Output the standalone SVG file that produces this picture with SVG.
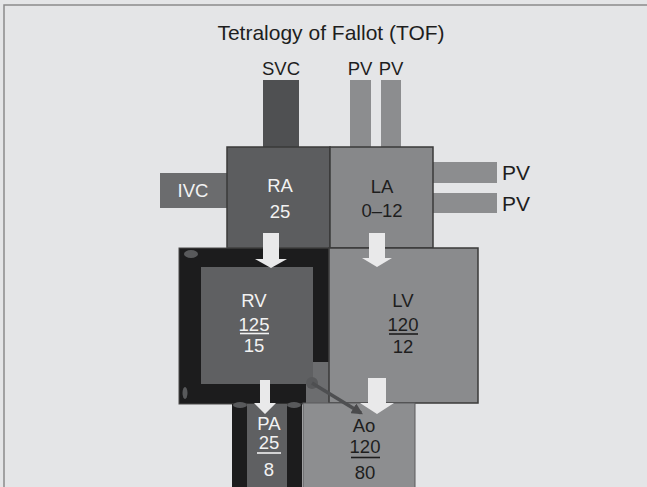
<svg xmlns="http://www.w3.org/2000/svg" width="647" height="487" viewBox="0 0 647 487">
<style>
.t{font-family:"Liberation Sans",Arial,sans-serif;font-size:18.5px;text-anchor:middle}
.w{fill:#f2f2f2}
.d{fill:#1e1e1e}
.ul{stroke-width:1.6}
.box{stroke:#3a3a3a;stroke-width:1.5}
.arr{fill:#e9e9ea}
</style>
<defs>
<marker id="ah" viewBox="0 0 10 10" refX="8" refY="5" markerWidth="3.2" markerHeight="3.2" orient="auto" markerUnits="strokeWidth">
<path d="M0,0 L10,5 L0,10 Z" fill="#4a4a4c"/>
</marker>
</defs>
<rect x="0" y="0" width="647" height="487" fill="#e4e5e7"/>
<path d="M4,487 V5 H647" fill="none" stroke="#8a8a8c" stroke-width="1.5"/>
<text class="t d" x="331" y="40" style="font-size:21px">Tetralogy of Fallot (TOF)</text>

<g id="SVC">
<rect x="263" y="80" width="36" height="67" fill="#4f5052"/>
<text class="t d" x="281" y="75">SVC</text>
</g>
<g id="PV-top">
<rect x="350" y="80" width="21" height="67" fill="#8c8d8f"/>
<rect x="381" y="80" width="20" height="67" fill="#8c8d8f"/>
<text class="t d" x="360" y="75">PV</text>
<text class="t d" x="391" y="75">PV</text>
</g>
<g id="IVC">
<rect x="160" y="173" width="67" height="35" fill="#6b6c6e"/>
<text class="t w" x="193" y="197">IVC</text>
</g>
<g id="PV-right">
<rect x="433" y="162" width="64" height="21" fill="#8c8d8f"/>
<rect x="433" y="193" width="64" height="20" fill="#8c8d8f"/>
<text class="t d" x="502" y="180" style="font-size:21px;text-anchor:start">PV</text>
<text class="t d" x="502" y="211" style="font-size:21px;text-anchor:start">PV</text>
</g>
<g id="RA">
<rect class="box" x="227" y="147" width="103" height="101" fill="#5c5d5f"/>
<text class="t w" x="280" y="192">RA</text>
<text class="t w" x="280" y="218">25</text>
</g>
<g id="LA">
<rect class="box" x="330" y="147" width="103" height="101" fill="#87888a"/>
<text class="t d" x="382" y="193">LA</text>
<text class="t d" x="382" y="217">0–12</text>
</g>
<g id="RV">
<rect x="179" y="248" width="150" height="156" fill="#1c1c1d" stroke="#4a4a4a" stroke-width="1"/>
<path d="M313,362 H329 V404 H306 V384 H313 Z" fill="#6c6d6f"/>
<rect x="201" y="267" width="112" height="117" fill="#5f6062"/>
<ellipse cx="191" cy="254" rx="7" ry="4" fill="#58595b"/>
<ellipse cx="185" cy="393" rx="2.5" ry="6" fill="#58595b"/>
<text class="t w" x="254" y="307">RV</text>
<text class="t w" x="254" y="331">125</text>
<line class="ul" x1="240" y1="333.5" x2="269" y2="333.5" stroke="#f2f2f2"/>
<text class="t w" x="254" y="352">15</text>
</g>
<g id="LV">
<rect class="box" x="329" y="248" width="149" height="155" fill="#8a8b8d"/>
<text class="t d" x="403" y="307">LV</text>
<text class="t d" x="403" y="331">120</text>
<line class="ul" x1="389" y1="334" x2="418" y2="334" stroke="#1e1e1e"/>
<text class="t d" x="403" y="353">12</text>
</g>
<g id="PA">
<rect x="232" y="404" width="70" height="83" fill="#1c1c1d"/>
<rect x="247" y="404" width="40" height="83" fill="#5f6062"/>
<ellipse cx="240" cy="405" rx="7" ry="3" fill="#58595b"/>
<ellipse cx="294" cy="405" rx="7" ry="3" fill="#58595b"/>
<text class="t w" x="269" y="430">PA</text>
<text class="t w" x="269" y="449">25</text>
<line class="ul" x1="257" y1="453" x2="281" y2="453" stroke="#f2f2f2"/>
<text class="t w" x="269" y="476">8</text>
</g>
<g id="Ao">
<rect x="303" y="403" width="112" height="86" fill="#8d8e90" stroke="#5a5a5c" stroke-width="1"/>
<text class="t d" x="364" y="432">Ao</text>
<text class="t d" x="365" y="453">120</text>
<line class="ul" x1="351" y1="457.5" x2="380" y2="457.5" stroke="#1e1e1e"/>
<text class="t d" x="365" y="479">80</text>
</g>
<g id="connectors">
<polygon class="arr" points="263,233 279,233 279,259 287,259 271,268 255,259 263,259"/>
<polygon class="arr" points="369,233 385,233 385,258 392,258 377,267 362,258 369,258"/>
<polygon class="arr" points="260,380 270,380 270,403 276,403 265,414 254,403 260,403"/>
<polygon class="arr" points="368,378 386,378 386,403 394,403 377,414 360,403 368,403"/>
<circle cx="312" cy="383" r="6" fill="#58595b"/>
<line x1="312" y1="383" x2="361" y2="413" stroke="#4e4f51" stroke-width="3.5" marker-end="url(#ah)"/>
</g>
</svg>
